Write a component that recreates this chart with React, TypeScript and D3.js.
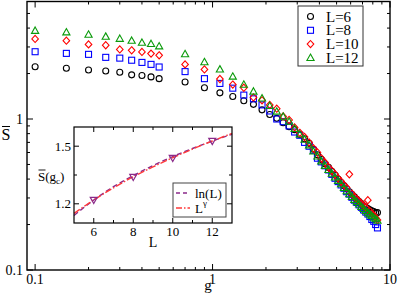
import React from "react";
import * as d3 from "d3";

// ---------- DATA ----------
const gValues = [
  0.1, 0.15, 0.2, 0.25, 0.3, 0.35, 0.4, 0.45, 0.5, 0.7, 0.9, 1.1, 1.3, 1.5, 1.7, 1.9, 2.1, 2.3, 2.5, 2.7,
  2.9, 3.1, 3.3, 3.5, 3.7, 3.9, 4.1, 4.3, 4.5, 4.7, 4.9, 5.1, 5.3, 5.5, 5.7, 5.9, 6.1, 6.3, 6.5, 6.7,
  6.9, 7.1, 7.3, 7.5, 7.7, 7.9, 8.1, 8.3, 8.5,
];

const sL6 = [
  2.22, 2.17, 2.11, 2.08, 2.04, 1.96, 1.94, 1.9, 1.85, 1.76, 1.61, 1.49, 1.41, 1.32, 1.25, 1.15, 1.07, 1.01, 0.945, 0.89,
  0.85, 0.79, 0.74, 0.69, 0.63, 0.58, 0.54, 0.505, 0.478, 0.45, 0.425, 0.4, 0.38, 0.362, 0.345, 0.33, 0.317, 0.305, 0.294, 0.284,
  0.275, 0.266, 0.26, 0.255, 0.25, 0.247, 0.244, 0.24, 0.24,
];
const sL8 = [
  2.79, 2.72, 2.68, 2.56, 2.53, 2.45, 2.37, 2.3, 2.21, 2.06, 1.85, 1.72, 1.6, 1.44, 1.36, 1.24, 1.13, 1.0, 0.96, 0.9,
  0.82, 0.78, 0.7, 0.66, 0.62, 0.55, 0.52, 0.49, 0.46, 0.43, 0.405, 0.385, 0.366, 0.348, 0.33, 0.318, 0.303, 0.29, 0.28, 0.27,
  0.26, 0.25, 0.242, 0.235, 0.226, 0.216, 0.21, 0.2, 0.19,
];
const sL10 = [
  3.39, 3.3, 3.12, 3.08, 2.89, 2.85, 2.78, 2.71, 2.64, 2.3, 2.13, 1.84, 1.69, 1.61, 1.39, 1.33, 1.24, 1.17, 1.04, 0.985,
  0.88, 0.81, 0.76, 0.7, 0.64, 0.6, 0.55, 0.515, 0.48, 0.455, 0.43, 0.405, 0.385, 0.365, 0.35, 0.43, 0.32, 0.305, 0.295, 0.285,
  0.275, 0.268, 0.26, 0.29, 0.245, 0.238, 0.23, 0.222, 0.214,
];
const sL12 = [
  3.84, 3.75, 3.62, 3.51, 3.4, 3.3, 3.2, 3.14, 3.03, 2.69, 2.38, 2.13, 1.91, 1.69, 1.52, 1.37, 1.22, 1.12, 1.036, 0.96,
  0.86, 0.79, 0.73, 0.67, 0.61, 0.565, 0.525, 0.49, 0.46, 0.435, 0.41, 0.39, 0.37, 0.35, 0.333, 0.318, 0.305, 0.292, 0.282, 0.272,
  0.262, 0.254, 0.246, 0.24, 0.234, 0.228, 0.222, 0.217, 0.212,
];

const seriesNames = ["L=6", "L=8", "L=10", "L=12"];

const xMajorTicks = [0.1, 1, 10];
const xTickLabels = ["0.1", "1", "10"];
const xMinorTicks = [0.2, 0.3, 0.4, 0.5, 0.6, 0.7, 0.8, 0.9, 2, 3, 4, 5, 6, 7, 8, 9];
const yMajorTicks = [0.1, 1];
const yTickLabels = ["0.1", "1"];
const yMinorTicks = [0.2, 0.3, 0.4, 0.5, 0.6, 0.7, 0.8, 0.9, 2, 3, 4, 5];

// inset
const insetL = [6, 8, 10, 12];
const insetS = [1.22, 1.34, 1.439, 1.527];
const fitL = [5, 6, 7, 8, 9, 10, 11, 12, 13];
const fitLn = [1.139, 1.22, 1.289, 1.347, 1.399, 1.446, 1.488, 1.527, 1.562];
const fitPow = [1.15, 1.22, 1.283, 1.341, 1.392, 1.44, 1.485, 1.527, 1.567];
const insetXMajor = [6, 8, 10, 12];
const insetXLabels = ["6", "8", "10", "12"];
const insetXMinor = [7, 9, 11];
const insetYMajor = [1.2, 1.5];
const insetYLabels = ["1.2", "1.5"];
const insetYMinor = [1.35];
const insetLegend = ["ln(L)", "L"];

// ---------- LAYOUT ----------
const FONT = "'Liberation Serif', 'Times New Roman', serif";
const M = { left: 27, right: 390, top: 1.5, bottom: 270 };
const IN = { left: 74, right: 232, top: 127, bottom: 223 };

const colors = ["#000000", "#0000ff", "#ff0000", "#0a9a0a"];
const purple = "#8a2a8a";

function Marker({ kind, x, y, color }: { kind: number; x: number; y: number; color: string }) {
  const sw = 1.1;
  if (kind === 0) return <circle cx={x} cy={y} r={3} fill="none" stroke={color} strokeWidth={sw} />;
  if (kind === 1) return <rect x={x - 3} y={y - 3} width={6} height={6} fill="none" stroke={color} strokeWidth={sw} />;
  if (kind === 2)
    return (
      <path d={`M${x},${y - 3.6}L${x + 3.3},${y}L${x},${y + 3.6}L${x - 3.3},${y}Z`} fill="none" stroke={color} strokeWidth={sw} />
    );
  return (
    <path d={`M${x},${y - 3.8}L${x + 3.6},${y + 2.6}L${x - 3.6},${y + 2.6}Z`} fill="none" stroke={color} strokeWidth={sw} />
  );
}

export default function App() {
  const x = d3.scaleLog().domain([0.09, 10]).range([M.left, M.right]);
  const y = d3.scaleLog().domain([0.1, 6]).range([M.bottom, M.top]);
  const series = [sL6, sL8, sL10, sL12];

  const ix = d3.scaleLinear().domain([5, 13]).range([IN.left, IN.right]);
  const iy = d3.scaleLinear().domain([1.1, 1.6]).range([IN.bottom, IN.top]);
  const lineGen = d3
    .line<number>()
    .x((_, i) => ix(fitL[i]))
    .y((d) => iy(d))
    .curve(d3.curveMonotoneX);

  const axisColor = "#000";
  const maj = 6;
  const mnr = 3;

  return (
    <svg
      width={399}
      height={299}
      style={{ position: "absolute", left: 0, top: 0, background: "#fff" }}
      fontFamily={FONT}
    >
      <rect x={0} y={0} width={399} height={299} fill="#fff" />
      {/* main ticks */}
      <g stroke={axisColor} strokeWidth={1}>
        {xMajorTicks.map((t) => (
          <g key={"xM" + t}>
            <line x1={x(t)} x2={x(t)} y1={M.bottom} y2={M.bottom - maj} />
            <line x1={x(t)} x2={x(t)} y1={M.top} y2={M.top + maj} />
          </g>
        ))}
        {xMinorTicks.map((t) => (
          <g key={"xm" + t}>
            <line x1={x(t)} x2={x(t)} y1={M.bottom} y2={M.bottom - mnr} />
            <line x1={x(t)} x2={x(t)} y1={M.top} y2={M.top + mnr} />
          </g>
        ))}
        {yMajorTicks.map((t) => (
          <g key={"yM" + t}>
            <line x1={M.left} x2={M.left + maj} y1={y(t)} y2={y(t)} />
            <line x1={M.right} x2={M.right - maj} y1={y(t)} y2={y(t)} />
          </g>
        ))}
        {yMinorTicks.map((t) => (
          <g key={"ym" + t}>
            <line x1={M.left} x2={M.left + mnr} y1={y(t)} y2={y(t)} />
            <line x1={M.right} x2={M.right - mnr} y1={y(t)} y2={y(t)} />
          </g>
        ))}
      </g>
      {/* tick labels */}
      <g fontSize={14} fill="#000">
        {xMajorTicks.map((t, i) => (
          <text key={"xl" + t} x={x(t)} y={284} textAnchor="middle">
            {xTickLabels[i]}
          </text>
        ))}
        {yMajorTicks.map((t, i) => (
          <text key={"yl" + t} x={23} y={y(t) + 4.5} textAnchor="end">
            {yTickLabels[i]}
          </text>
        ))}
      </g>
      {/* axis labels */}
      <text x={208} y={290} fontSize={15} textAnchor="middle">
        g
      </text>
      <text x={6} y={140} fontSize={16} textAnchor="middle">
        S
      </text>
      <line x1={2} x2={10} y1={126.5} y2={126.5} stroke="#000" strokeWidth={1} />

      {/* data */}
      {series.map((s, k) => (
        <g key={"s" + k}>
          {s.map((v, i) => (
            <Marker key={i} kind={k} x={x(gValues[i])} y={y(v)} color={colors[k]} />
          ))}
        </g>
      ))}

      {/* main frame */}
      <rect
        x={M.left}
        y={M.top}
        width={M.right - M.left}
        height={M.bottom - M.top}
        fill="none"
        stroke={axisColor}
        strokeWidth={1.4}
      />

      {/* main legend */}
      <rect x={298} y={6} width={65} height={60} fill="#fff" stroke="#333" strokeWidth={1} />
      {seriesNames.map((n, k) => {
        const cy = 16.5 + k * 13.8;
        return (
          <g key={"lg" + n}>
            <Marker kind={k} x={310.5} y={cy} color={colors[k]} />
            <text x={326} y={cy + 5} fontSize={15}>
              {n}
            </text>
          </g>
        );
      })}

      {/* inset */}
      <rect x={IN.left} y={IN.top} width={IN.right - IN.left} height={IN.bottom - IN.top} fill="#fff" />
      <g stroke={axisColor} strokeWidth={1}>
        {insetXMajor.map((t) => (
          <g key={"ixM" + t}>
            <line x1={ix(t)} x2={ix(t)} y1={IN.bottom} y2={IN.bottom - 5} />
            <line x1={ix(t)} x2={ix(t)} y1={IN.top} y2={IN.top + 5} />
          </g>
        ))}
        {insetXMinor.map((t) => (
          <g key={"ixm" + t}>
            <line x1={ix(t)} x2={ix(t)} y1={IN.bottom} y2={IN.bottom - 3} />
            <line x1={ix(t)} x2={ix(t)} y1={IN.top} y2={IN.top + 3} />
          </g>
        ))}
        {insetYMajor.map((t) => (
          <g key={"iyM" + t}>
            <line x1={IN.left} x2={IN.left + 5} y1={iy(t)} y2={iy(t)} />
            <line x1={IN.right} x2={IN.right - 5} y1={iy(t)} y2={iy(t)} />
          </g>
        ))}
        {insetYMinor.map((t) => (
          <g key={"iym" + t}>
            <line x1={IN.left} x2={IN.left + 3} y1={iy(t)} y2={iy(t)} />
            <line x1={IN.right} x2={IN.right - 3} y1={iy(t)} y2={iy(t)} />
          </g>
        ))}
      </g>
      <g fontSize={13}>
        {insetXMajor.map((t, i) => (
          <text key={"ixl" + t} x={ix(t)} y={236} textAnchor="middle">
            {insetXLabels[i]}
          </text>
        ))}
        {insetYMajor.map((t, i) => (
          <text key={"iyl" + t} x={71} y={iy(t) + 4.5} textAnchor="end">
            {insetYLabels[i]}
          </text>
        ))}
      </g>
      <text x={153} y={247} fontSize={14} textAnchor="middle">
        L
      </text>
      <text x={38} y={181} fontSize={13}>
        S(g<tspan fontSize={9} dy={3}>c</tspan>
        <tspan dy={-3}>)</tspan>
      </text>
      <line x1={38.5} x2={45.5} y1={170} y2={170} stroke="#000" strokeWidth={0.9} />

      <path d={lineGen(fitLn) || ""} fill="none" stroke={purple} strokeWidth={1.4} strokeDasharray="5,3" />
      <path d={lineGen(fitPow) || ""} fill="none" stroke="#ff3a3a" strokeWidth={1.4} strokeDasharray="7,2,1.5,2" />
      {insetL.map((l, i) => {
        const cx = ix(l);
        const cy = iy(insetS[i]);
        return (
          <path
            key={"it" + l}
            d={`M${cx},${cy + 3.6}L${cx + 3.5},${cy - 2.6}L${cx - 3.5},${cy - 2.6}Z`}
            fill="none"
            stroke={purple}
            strokeWidth={1.2}
          />
        );
      })}
      {/* inset legend */}
      <rect x={173} y={183} width={53} height={34} fill="#fff" stroke="#444" strokeWidth={1} />
      <line x1={176} x2={190} y1={193} y2={193} stroke={purple} strokeWidth={1.4} strokeDasharray="4,3" />
      <line x1={176} x2={190} y1={208} y2={208} stroke="#ff3a3a" strokeWidth={1.4} strokeDasharray="6,2,1.5,2" />
      <text x={195} y={197.5} fontSize={13}>
        {insetLegend[0]}
      </text>
      <text x={195} y={212.5} fontSize={13}>
        {insetLegend[1]}
        <tspan fontSize={9} dy={-7}>
          γ
        </tspan>
      </text>
      <rect
        x={IN.left}
        y={IN.top}
        width={IN.right - IN.left}
        height={IN.bottom - IN.top}
        fill="none"
        stroke={axisColor}
        strokeWidth={1.2}
      />
    </svg>
  );
}
